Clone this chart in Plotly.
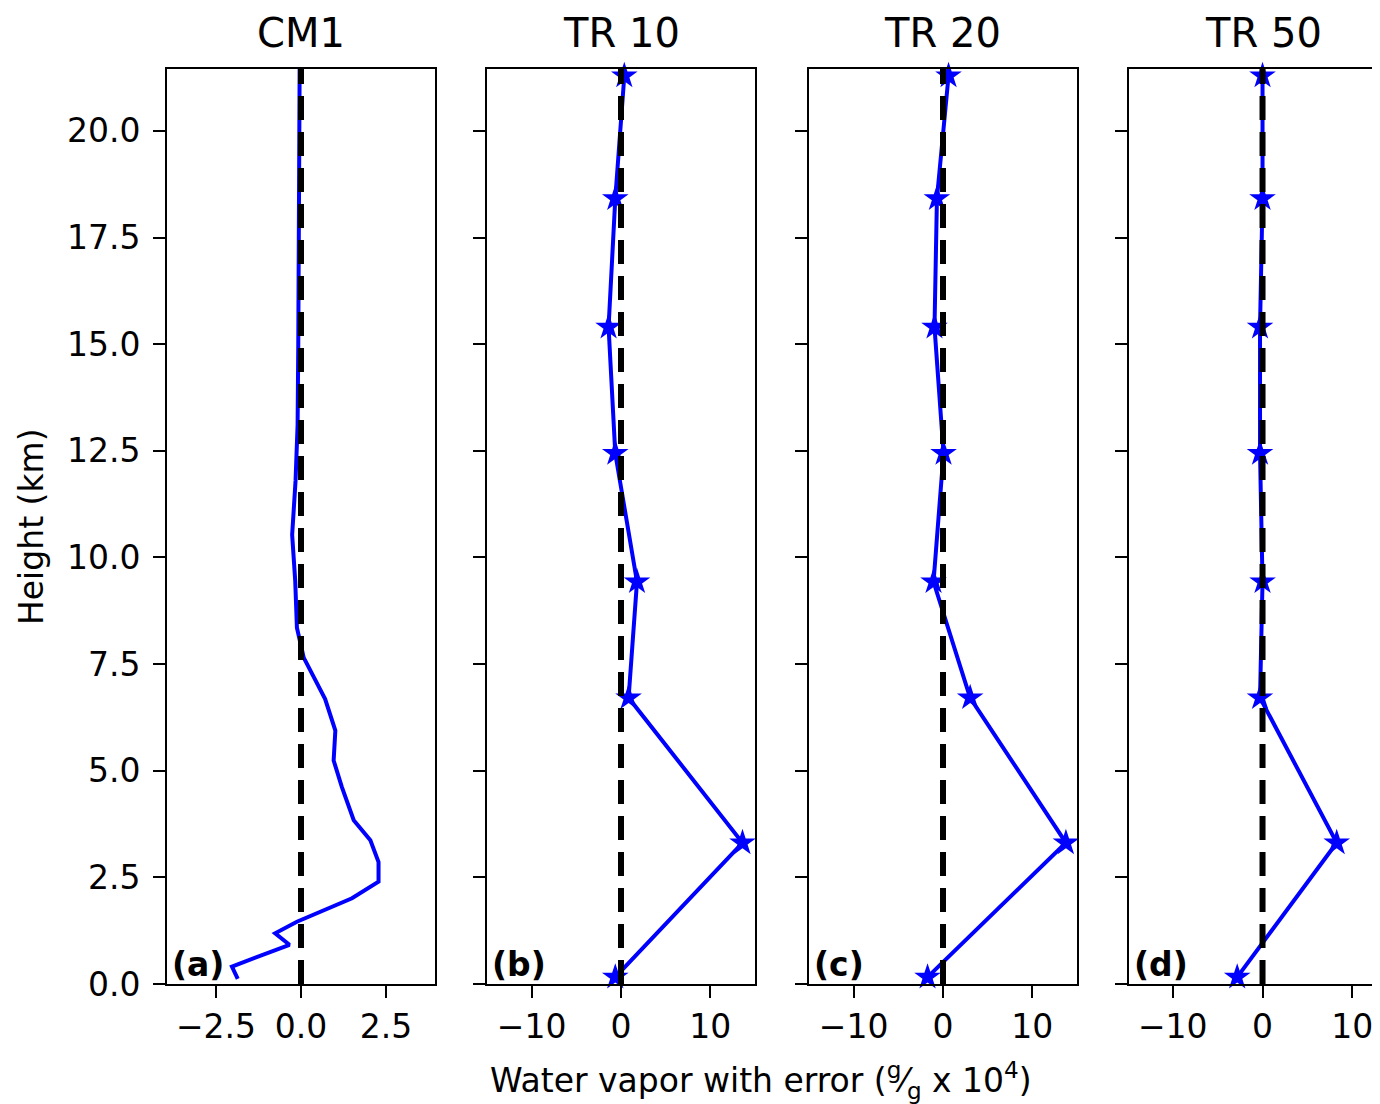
import plotly.graph_objects as go

# ---------------- data ----------------
panel_titles = ["CM1", "TR 10", "TR 20", "TR 50"]
panel_tags = ["(a)", "(b)", "(c)", "(d)"]

heights_cm1 = [0.12, 0.41, 0.92, 1.19, 1.46, 2.01, 2.40, 2.86, 3.37, 3.84, 4.62,
               5.24, 5.94, 6.68, 7.65, 8.35, 9.45, 10.53, 11.80, 13.10, 15.0,
               17.4, 19.5, 21.45]
wv_cm1 = [-1.86, -2.03, -0.34, -0.76, -0.12, 1.50, 2.28, 2.28, 2.04, 1.55, 1.20,
          0.96, 1.01, 0.71, 0.08, -0.12, -0.17, -0.26, -0.16, -0.10, -0.08,
          -0.06, -0.05, -0.04]

heights_tr = [0.16, 3.31, 6.71, 9.43, 12.44, 15.40, 18.41, 21.29]
wv_tr10 = [-0.64, 13.60, 0.85, 1.79, -0.64, -1.39, -0.64, 0.37]
wv_tr20 = [-1.73, 13.76, 3.04, -1.06, 0.06, -0.95, -0.68, 0.62]
wv_tr50 = [-2.82, 8.26, -0.28, 0.00, -0.28, -0.28, 0.00, 0.00]

y_tickvals = [0.0, 2.5, 5.0, 7.5, 10.0, 12.5, 15.0, 17.5, 20.0]
y_ticktext = ["0.0", "2.5", "5.0", "7.5", "10.0", "12.5", "15.0", "17.5", "20.0"]
x1_tickvals = [-2.5, 0.0, 2.5]
x1_ticktext = ["\u22122.5", "0.0", "2.5"]
xtr_tickvals = [-10, 0, 10]
xtr_ticktext = ["\u221210", "0", "10"]

x_label = "Water vapor with error (<sup>g</sup>\u2044<sub>g</sub> x 10<sup>4</sup>)"
y_label = "Height (km)"

# ---------------- layout geometry ----------------
# page has an 8px body margin; figure coords = page coords - 8
OFF = 8
FW, FH = 1364, 1096


def px(x):
    return (x - OFF) / FW


def py(y):
    return 1 - (y - OFF) / FH


x_domains = [[px(167), px(435)], [px(487), px(755)], [px(809), px(1077)], [px(1129), 1.0]]
y_domain = [py(984), py(69)]
x_ranges = [[-3.94, 3.94], [-15.0, 15.0], [-15.0, 15.0],
            [-14.87, -14.87 + (FW + OFF - 1129) / 8.98]]
y_range = [0, 21.45]

FONT = "DejaVu Sans"
BLUE = "#0000ff"

fig = go.Figure()

series = [(wv_cm1, heights_cm1, False), (wv_tr10, heights_tr, True),
          (wv_tr20, heights_tr, True), (wv_tr50, heights_tr, True)]

for i, (xv, yv, stars) in enumerate(series):
    sfx = "" if i == 0 else str(i + 1)
    fig.add_trace(go.Scatter(
        x=xv, y=yv, xaxis="x" + sfx, yaxis="y" + sfx,
        mode="lines+markers" if stars else "lines",
        line=dict(color=BLUE, width=4),
        marker=dict(symbol="star", size=20, color=BLUE, line=dict(width=0)),
        showlegend=False, cliponaxis=False,
    ))
    # zero reference line
    fig.add_shape(type="line", xref="x" + sfx, yref="y" + sfx + " domain",
                  x0=0, x1=0, y0=0, y1=1, layer="above",
                  line=dict(color="black", width=6, dash="24px,12px"))

axis_common = dict(showline=True, linecolor="black", linewidth=2,
                   ticks="outside", ticklen=12, tickwidth=2, tickcolor="black",
                   showgrid=False, zeroline=False, automargin=False,
                   ticklabeloverflow="allow",
                   tickfont=dict(family=FONT, size=33, color="black"))

layout = dict(width=FW, height=FH, margin=dict(l=0, r=0, t=0, b=0),
              plot_bgcolor="white", paper_bgcolor="white",
              font=dict(family=FONT, color="black"))

for i in range(4):
    sfx = "" if i == 0 else str(i + 1)
    if i == 0:
        tv, tt = x1_tickvals, x1_ticktext
    else:
        tv, tt = xtr_tickvals, xtr_ticktext
    layout["xaxis" + sfx] = dict(axis_common, domain=x_domains[i], range=x_ranges[i],
                                 anchor="y" + sfx, mirror=True,
                                 tickvals=tv, ticktext=tt)
    layout["yaxis" + sfx] = dict(axis_common, domain=y_domain, range=y_range,
                                 anchor="x" + sfx, mirror=(i < 3),
                                 tickvals=y_tickvals, ticktext=y_ticktext,
                                 showticklabels=(i == 0), ticklabelstandoff=6)

fig.update_layout(**layout)

centers = [301, 621, 943, 1263]
annotations = []
for i in range(4):
    annotations.append(dict(text=panel_titles[i], xref="paper", yref="paper",
                            x=px(centers[i]), y=py(33), xanchor="center", yanchor="middle",
                            showarrow=False,
                            font=dict(family=FONT, size=40, color="black")))
    annotations.append(dict(text="<b>" + panel_tags[i] + "</b>", xref="paper", yref="paper",
                            x=x_domains[i][0] + 3 / FW, y=y_domain[0] - 2 / FH,
                            xanchor="left", yanchor="bottom", showarrow=False,
                            font=dict(family=FONT, size=33, color="black")))

annotations.append(dict(text=x_label, xref="paper", yref="paper",
                        x=px(761), y=py(1080), xanchor="center", yanchor="middle",
                        showarrow=False, font=dict(family=FONT, size=33, color="black")))
annotations.append(dict(text=y_label, xref="paper", yref="paper",
                        x=px(32), y=py(527), xanchor="center", yanchor="middle",
                        textangle=-90, showarrow=False,
                        font=dict(family=FONT, size=33, color="black")))
fig.update_layout(annotations=annotations)

fig.write_html("out.html")
